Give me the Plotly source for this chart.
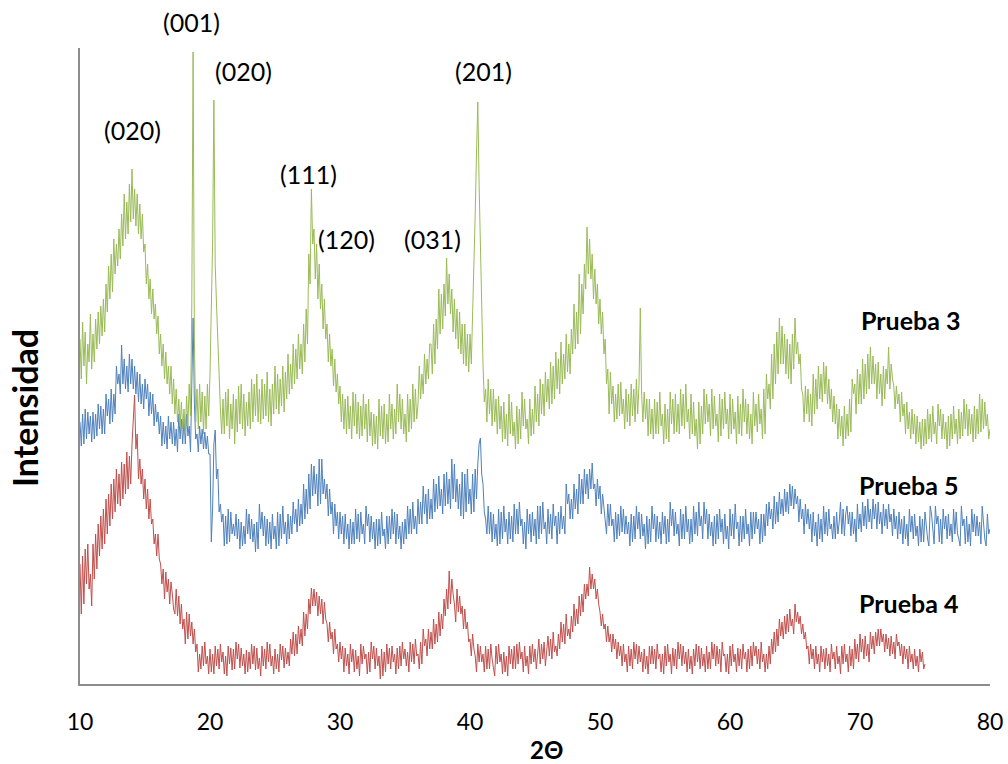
import plotly.graph_objects as go

# Step scan in 2-theta (degrees)
THETA_START = 10.0
THETA_STEP = 0.1

# Diffracted intensity (arbitrary units), one value per scan step, 10 steps per row
prueba_3 = [
    345, 305, 362, 318, 352, 300, 340, 322, 370, 315,
    350, 322, 365, 335, 372, 340, 378, 348, 385, 352,
    400, 372, 418, 385, 430, 392, 445, 410, 440, 418,
    455, 425, 470, 438, 490, 445, 482, 450, 500, 462,
    515, 465, 495, 458, 490, 450, 480, 445, 470, 432,
    440, 400, 420, 385, 405, 370, 395, 365, 380, 350,
    368, 330, 350, 318, 340, 305, 332, 300, 318, 290,
    318, 280, 305, 270, 295, 262, 285, 258, 282, 255,
    275, 250, 288, 258, 300, 268, 380, 632, 345, 262,
    295, 255, 300, 262, 292, 250, 288, 255, 300, 268,
    310, 362, 440, 584, 420, 380, 340, 300, 275, 250,
    285, 250, 292, 258, 295, 245, 280, 255, 290, 240,
    285, 252, 298, 260, 300, 255, 290, 248, 282, 258,
    292, 255, 305, 262, 300, 268, 310, 262, 295, 260,
    305, 265, 300, 268, 312, 262, 295, 258, 300, 270,
    318, 275, 310, 270, 305, 278, 318, 272, 312, 285,
    330, 290, 320, 295, 340, 300, 335, 305, 350, 315,
    340, 310, 360, 322, 375, 340, 430, 400, 495, 440,
    455, 405, 440, 385, 420, 375, 400, 355, 385, 345,
    360, 322, 350, 318, 335, 298, 325, 292, 310, 280,
    298, 262, 290, 255, 285, 250, 288, 255, 278, 245,
    292, 258, 290, 250, 282, 245, 278, 248, 290, 255,
    280, 242, 285, 248, 272, 238, 270, 240, 268, 235,
    285, 248, 278, 245, 280, 240, 270, 242, 290, 255,
    280, 245, 275, 250, 300, 262, 290, 255, 285, 250,
    270, 242, 290, 252, 285, 255, 300, 262, 295, 265,
    280, 318, 285, 310, 290, 330, 300, 325, 305, 340,
    340, 310, 360, 320, 365, 335, 395, 350, 390, 355,
    400, 368, 426, 380, 410, 370, 395, 352, 385, 345,
    375, 335, 372, 330, 360, 320, 360, 318, 350, 312,
    350, 320, 365, 420, 470, 530, 582, 500, 430, 360,
    320, 282, 295, 262, 305, 270, 295, 258, 295, 262,
    285, 250, 288, 255, 278, 242, 282, 245, 270, 238,
    290, 250, 282, 248, 262, 235, 278, 240, 275, 245,
    292, 258, 285, 255, 265, 240, 285, 248, 275, 250,
    298, 262, 290, 258, 305, 270, 300, 268, 312, 282,
    305, 275, 322, 280, 318, 285, 332, 295, 325, 290,
    342, 300, 330, 305, 350, 312, 340, 310, 355, 330,
    380, 335, 372, 340, 410, 350, 400, 370, 420, 395,
    457, 410, 445, 405, 430, 385, 415, 380, 400, 360,
    385, 350, 372, 330, 345, 300, 315, 270, 312, 280,
    298, 262, 290, 265, 300, 268, 302, 270, 285, 255,
    295, 262, 290, 258, 300, 268, 295, 262, 305, 270,
    300, 376, 290, 262, 292, 265, 285, 248, 285, 250,
    275, 245, 285, 250, 282, 250, 292, 258, 270, 240,
    280, 245, 275, 242, 292, 260, 285, 250, 290, 252,
    280, 250, 295, 258, 290, 255, 300, 262, 275, 245,
    290, 250, 282, 248, 265, 235, 282, 240, 278, 250,
    295, 260, 290, 262, 280, 248, 295, 255, 288, 258,
    270, 242, 290, 248, 285, 255, 292, 260, 275, 245,
    290, 250, 285, 255, 272, 240, 288, 250, 280, 248,
    295, 262, 285, 250, 280, 245, 270, 240, 292, 258,
    280, 252, 290, 260, 275, 245, 295, 250, 310, 285,
    300, 275, 330, 285, 340, 300, 352, 310, 366, 320,
    358, 320, 350, 310, 345, 305, 340, 300, 350, 315,
    366, 330, 342, 320, 330, 295, 290, 262, 298, 270,
    295, 262, 290, 258, 310, 270, 305, 275, 318, 285,
    310, 282, 322, 290, 318, 280, 305, 275, 295, 262,
    288, 260, 280, 245, 275, 248, 268, 238, 278, 245,
    270, 248, 285, 252, 305, 290, 300, 270, 315, 280,
    310, 280, 325, 285, 320, 290, 330, 295, 337, 300,
    328, 300, 320, 285, 322, 290, 310, 278, 318, 285,
    315, 300, 337, 295, 320, 305, 298, 275, 298, 280,
    290, 262, 292, 268, 280, 250, 282, 255, 272, 245,
    275, 250, 270, 240, 268, 242, 262, 235, 265, 238,
    265, 240, 275, 245, 270, 242, 278, 250, 262, 240,
    280, 258, 275, 245, 270, 245, 262, 235, 268, 238,
    270, 245, 278, 250, 265, 240, 275, 245, 272, 248,
    285, 255, 280, 248, 275, 250, 270, 242, 278, 245,
    275, 250, 290, 252, 285, 255, 282, 258, 270, 245,
    255,
]

prueba_5 = [
    262, 238, 270, 240, 275, 245, 272, 250, 268, 242,
    272, 245, 270, 248, 280, 255, 278, 250, 275, 250,
    290, 268, 285, 260, 295, 262, 290, 270, 318, 300,
    310, 290, 339, 300, 325, 295, 318, 292, 330, 300,
    325, 295, 318, 290, 312, 282, 310, 280, 300, 275,
    305, 285, 300, 268, 292, 270, 290, 258, 280, 262,
    272, 250, 268, 238, 262, 240, 258, 235, 268, 245,
    262, 240, 262, 238, 255, 232, 270, 245, 265, 240,
    265, 240, 270, 248, 258, 232, 300, 366, 280, 245,
    250, 232, 258, 240, 255, 235, 252, 235, 248, 230,
    230, 142, 175, 240, 254, 205, 215, 172, 180, 162,
    170, 138, 168, 140, 175, 142, 172, 150, 160, 148,
    170, 145, 165, 135, 162, 138, 158, 140, 175, 150,
    170, 145, 165, 142, 160, 132, 162, 135, 180, 155,
    172, 148, 168, 138, 165, 140, 162, 135, 170, 145,
    158, 135, 172, 138, 170, 145, 178, 150, 162, 140,
    170, 145, 168, 150, 182, 160, 175, 152, 185, 158,
    180, 160, 200, 165, 195, 170, 210, 175, 220, 188,
    218, 190, 210, 178, 225, 180, 225, 190, 205, 185,
    200, 168, 195, 170, 182, 150, 180, 158, 172, 145,
    172, 150, 168, 140, 170, 145, 160, 135, 165, 140,
    162, 140, 175, 145, 170, 142, 172, 150, 160, 140,
    178, 158, 170, 142, 168, 145, 162, 135, 165, 138,
    165, 140, 172, 148, 155, 135, 168, 140, 168, 145,
    175, 150, 172, 140, 170, 145, 158, 135, 162, 140,
    165, 145, 178, 150, 175, 150, 182, 155, 168, 150,
    185, 160, 182, 160, 198, 170, 190, 160, 195, 165,
    185, 165, 205, 172, 200, 175, 208, 178, 195, 170,
    210, 178, 212, 180, 205, 175, 225, 185, 220, 182,
    205, 175, 200, 168, 212, 165, 210, 172, 215, 180,
    195, 170, 210, 172, 215, 185, 220, 240, 246, 210,
    200, 172, 165, 150, 178, 150, 172, 142, 170, 145,
    160, 138, 175, 140, 172, 145, 178, 152, 165, 140,
    172, 145, 168, 142, 180, 150, 175, 150, 182, 158,
    165, 140, 162, 135, 175, 150, 170, 142, 172, 148,
    165, 140, 178, 145, 178, 150, 182, 155, 162, 140,
    175, 150, 170, 145, 180, 158, 168, 140, 172, 150,
    178, 155, 168, 150, 200, 180, 190, 165, 185, 165,
    200, 175, 195, 170, 210, 180, 205, 180, 215, 190,
    210, 185, 215, 195, 221, 195, 200, 178, 205, 185,
    198, 170, 190, 175, 165, 150, 180, 158, 180, 158,
    165, 142, 172, 145, 170, 148, 178, 152, 175, 150,
    168, 150, 162, 138, 170, 142, 168, 145, 178, 155,
    172, 145, 170, 148, 160, 135, 168, 140, 165, 142,
    178, 155, 170, 142, 168, 145, 162, 140, 172, 150,
    168, 140, 165, 142, 182, 158, 175, 148, 172, 150,
    160, 138, 175, 145, 170, 145, 178, 152, 165, 140,
    165, 142, 178, 150, 172, 148, 182, 158, 168, 145,
    182, 160, 175, 145, 170, 148, 162, 138, 168, 140,
    170, 145, 175, 152, 165, 140, 170, 145, 158, 135,
    175, 148, 170, 145, 180, 155, 162, 138, 168, 142,
    168, 145, 175, 150, 160, 138, 172, 145, 172, 150,
    172, 155, 165, 140, 170, 142, 170, 148, 180, 158,
    182, 165, 175, 155, 188, 160, 182, 162, 192, 170,
    185, 168, 195, 172, 192, 170, 200, 178, 198, 175,
    195, 180, 188, 162, 185, 165, 175, 150, 180, 160,
    175, 155, 170, 142, 172, 148, 162, 138, 170, 145,
    165, 142, 178, 150, 172, 148, 175, 155, 160, 145,
    168, 145, 172, 150, 162, 182, 150, 175, 148, 170,
    178, 160, 172, 148, 172, 150, 165, 142, 180, 155,
    170, 152, 182, 158, 178, 155, 185, 162, 175, 155,
    185, 165, 180, 155, 182, 160, 172, 150, 180, 158,
    175, 155, 180, 162, 170, 148, 175, 155, 168, 145,
    172, 150, 165, 140, 168, 145, 160, 138, 175, 152,
    168, 145, 170, 148, 158, 138, 168, 142, 165, 142,
    172, 155, 145, 138, 178, 170, 150, 140, 178, 160,
    168, 142, 165, 140, 175, 155, 168, 145, 170, 148,
    160, 142, 175, 150, 172, 150, 145, 138, 178, 158,
    165, 140, 168, 142, 160, 138, 175, 152, 170, 148,
    168, 148, 162, 140, 178, 155, 145, 138, 170, 150,
    155,
]

prueba_4 = [
    120, 70, 128, 80, 135, 100, 140, 95, 110, 78,
    140, 105, 150, 115, 160, 128, 168, 135, 175, 140,
    185, 150, 190, 158, 200, 165, 205, 172, 215, 180,
    210, 178, 222, 185, 220, 190, 232, 195, 228, 200,
    240, 262, 289, 235, 250, 205, 225, 200, 215, 185,
    205, 175, 195, 165, 185, 160, 165, 140, 150, 128,
    150, 125, 120, 100, 115, 85, 112, 92, 105, 80,
    102, 90, 75, 70, 95, 68, 88, 60, 80, 55,
    65, 40, 72, 45, 70, 48, 62, 40, 55, 32,
    40, 12, 30, 15, 38, 18, 42, 20, 28, 10,
    35, 12, 30, 10, 38, 18, 35, 15, 40, 22,
    32, 10, 28, 8, 38, 20, 36, 14, 35, 15,
    42, 25, 40, 16, 36, 18, 30, 10, 34, 12,
    32, 15, 40, 20, 38, 14, 36, 15, 26, 8,
    38, 18, 35, 15, 42, 22, 40, 18, 28, 10,
    35, 15, 30, 12, 40, 24, 38, 16, 36, 20,
    32, 18, 45, 30, 52, 28, 50, 30, 58, 40,
    55, 38, 72, 48, 70, 55, 85, 70, 96, 78,
    95, 78, 92, 68, 88, 70, 85, 60, 82, 65,
    60, 42, 62, 45, 52, 30, 55, 35, 40, 22,
    42, 25, 38, 12, 36, 18, 30, 10, 40, 22,
    35, 12, 34, 15, 28, 8, 40, 20, 38, 25,
    30, 10, 32, 12, 42, 25, 38, 15, 36, 18,
    28, 5, 35, 8, 32, 12, 40, 20, 36, 15,
    38, 22, 30, 10, 36, 15, 38, 18, 42, 25,
    35, 18, 32, 12, 42, 22, 40, 20, 45, 28,
    30, 15, 42, 20, 55, 38, 45, 28, 55, 35,
    52, 35, 65, 40, 60, 42, 72, 48, 70, 55,
    85, 68, 95, 75, 113, 80, 105, 90, 80, 62,
    95, 72, 88, 70, 78, 55, 75, 55, 62, 42,
    45, 28, 50, 35, 28, 12, 40, 22, 38, 22,
    30, 12, 38, 15, 35, 15, 40, 25, 18, 8,
    38, 20, 40, 22, 30, 10, 32, 12, 28, 8,
    38, 20, 35, 15, 38, 15, 40, 20, 42, 25,
    32, 12, 38, 18, 28, 10, 38, 20, 40, 22,
    35, 15, 30, 45, 20, 40, 25, 42, 18, 35,
    48, 28, 45, 25, 52, 32, 38, 28, 50, 35,
    62, 42, 60, 40, 70, 48, 55, 45, 68, 52,
    80, 58, 75, 60, 88, 68, 90, 72, 100, 85,
    100, 88, 117, 95, 110, 95, 105, 85, 95, 80,
    72, 58, 70, 55, 60, 42, 58, 42, 50, 32,
    50, 35, 45, 25, 42, 28, 38, 18, 40, 22,
    30, 12, 38, 18, 35, 15, 42, 25, 40, 20,
    38, 22, 32, 12, 35, 15, 28, 10, 38, 20,
    38, 20, 35, 15, 40, 25, 30, 12, 30, 10,
    38, 18, 40, 22, 30, 10, 36, 18, 35, 15,
    42, 25, 40, 18, 38, 20, 32, 12, 35, 15,
    28, 10, 35, 18, 40, 22, 38, 15, 36, 18,
    30, 12, 38, 15, 32, 15, 42, 25, 40, 18,
    38, 20, 35, 12, 42, 28, 30, 12, 30, 10,
    38, 18, 40, 22, 30, 12, 36, 18, 35, 15,
    40, 25, 32, 12, 35, 15, 38, 18, 42, 28,
    38, 20, 35, 15, 42, 22, 30, 12, 30, 15,
    38, 20, 45, 30, 52, 32, 55, 38, 65, 48,
    62, 45, 68, 50, 70, 52, 75, 58, 65, 50,
    80, 62, 72, 60, 68, 50, 60, 45, 52, 35,
    38, 20, 40, 25, 35, 15, 38, 20, 30, 12,
    38, 22, 35, 15, 36, 18, 30, 12, 40, 25,
    32, 15, 38, 20, 28, 10, 38, 20, 40, 22,
    30, 12, 38, 18, 35, 15, 45, 25, 40, 22,
    50, 32, 45, 25, 48, 28, 40, 22, 52, 35,
    48, 30, 52, 38, 55, 38, 55, 42, 50, 32,
    50, 35, 46, 28, 48, 30, 42, 25, 50, 38,
    42, 28, 40, 20, 38, 25, 35, 15, 38, 22,
    30, 15, 35, 18, 28, 12, 35, 22, 32, 15,
    20,
]

series_names = ["Prueba 5", "Prueba 3", "Prueba 4"]
series_values = [prueba_5, prueba_3, prueba_4]
series_colors = ["#4F81BD", "#9BBB59", "#C0504D"]

# Miller-index labels: (text, 2-theta, intensity)
hkl_labels = ["(020)", "(020)", "(111)", "(120)", "(031)", "(201)"]
hkl_theta = [14.0, 22.6, 27.6, 30.5, 37.15, 41.0]
hkl_level = [554, 613, 510, 445, 445, 613]

# The (001) reflection label sits above the top of the plotting area
top_label = "(001)"
top_label_theta = 18.6

# Sample labels at the right of each pattern
sample_theta = [73.9, 73.8, 73.8]
sample_level = [364, 199, 81]
sample_names = ["Prueba 3", "Prueba 5", "Prueba 4"]

x_ticks = [10, 20, 30, 40, 50, 60, 70, 80]

FONT = "Lato"

fig = go.Figure()
for name, vals, color in zip(series_names, series_values, series_colors):
    theta = [round(THETA_START + i * THETA_STEP, 2) for i in range(len(vals))]
    fig.add_trace(go.Scatter(
        x=theta, y=vals, mode="lines", name=name,
        line=dict(color=color, width=1), showlegend=False,
    ))

annotations = []
for txt, tx, ty in zip(hkl_labels, hkl_theta, hkl_level):
    annotations.append(dict(
        x=tx, y=ty, xref="x", yref="y", text=txt, showarrow=False,
        xanchor="center", yanchor="middle",
        font=dict(family=FONT, size=25, color="black"),
    ))
annotations.append(dict(
    x=top_label_theta, y=1.041, xref="x", yref="paper", text=top_label,
    showarrow=False, xanchor="center", yanchor="middle",
    font=dict(family=FONT, size=25, color="black"),
))
for txt, tx, ty in zip(sample_names, sample_theta, sample_level):
    annotations.append(dict(
        x=tx, y=ty, xref="x", yref="y", text=txt, showarrow=False,
        xanchor="center", yanchor="middle",
        font=dict(family=FONT, size=25, color="black", weight="bold"),
    ))
annotations.append(dict(
    x=-0.0604, y=0.434, xref="paper", yref="paper", text="Intensidad",
    showarrow=False, textangle=-90, xanchor="center", yanchor="middle",
    font=dict(family=FONT, size=34, color="black", weight="bold"),
))
annotations.append(dict(
    x=0.513, y=-0.103, xref="paper", yref="paper", text="2Θ",
    showarrow=False, xanchor="center", yanchor="middle",
    font=dict(family=FONT, size=24, color="black", weight="bold"),
))

fig.update_layout(
    width=1008, height=764,
    margin=dict(l=80, r=18, t=48, b=80),
    paper_bgcolor="white", plot_bgcolor="white",
    annotations=annotations,
    xaxis=dict(
        range=[10, 80], tickvals=x_ticks, ticks="", showgrid=False,
        zeroline=False, showline=True, linecolor="#8C8C8C", linewidth=2,
        tickfont=dict(family=FONT, size=23, color="black"),
        ticklabelstandoff=16, automargin=False,
    ),
    yaxis=dict(
        range=[0, 636], showticklabels=False, ticks="", showgrid=False,
        zeroline=False, showline=True, linecolor="#8C8C8C", linewidth=1.5,
        automargin=False,
    ),
)

fig.write_html("out.html")
